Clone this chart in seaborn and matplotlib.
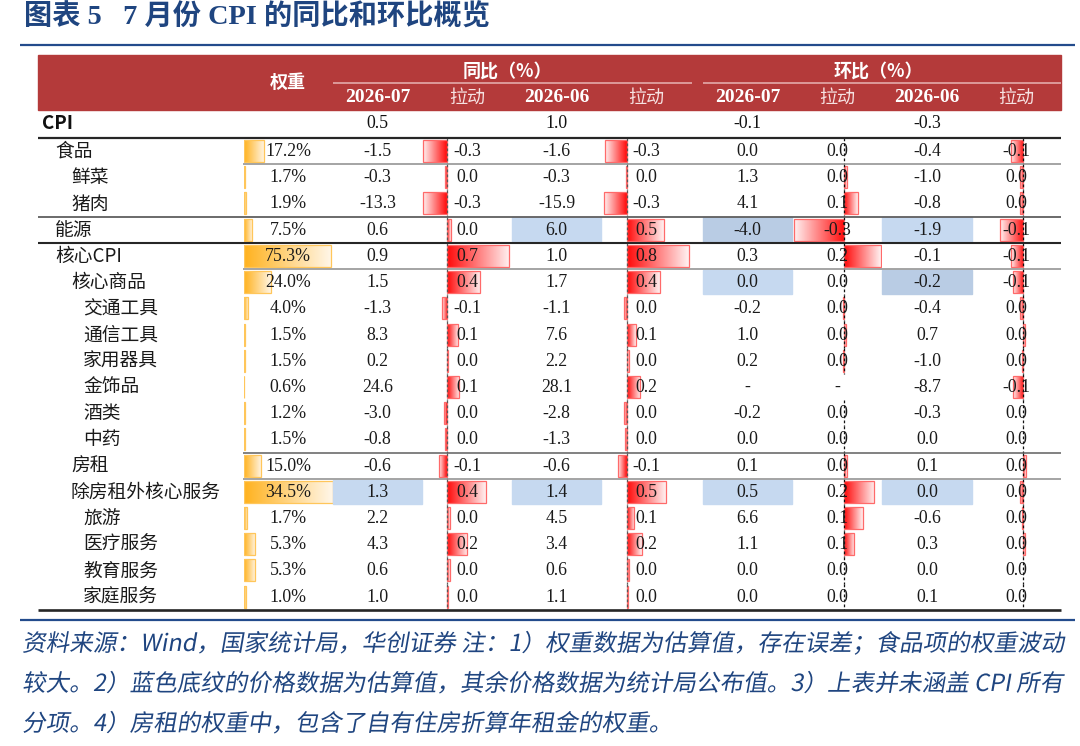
import numpy as np
import matplotlib
matplotlib.use('Agg')
import matplotlib.pyplot as plt
import seaborn as sns
from matplotlib.patches import Rectangle, PathPatch
from matplotlib.colors import LinearSegmentedColormap
from matplotlib.textpath import TextPath
from matplotlib.font_manager import FontProperties
from matplotlib.transforms import Affine2D

nan = np.nan

# ---- table data ----
rows = ['食品', '鲜菜', '猪肉', '能源', '核心CPI', '核心商品', '交通工具', '通信工具', '家用器具',
        '金饰品', '酒类', '中药', '房租', '除房租外核心服务', '旅游', '医疗服务', '教育服务', '家庭服务']
levels = [1, 2, 2, 1, 1, 2, 3, 3, 3, 3, 3, 3, 2, 2, 3, 3, 3, 3]
weights = [17.2, 1.7, 1.9, 7.5, 75.3, 24.0, 4.0, 1.5, 1.5, 0.6, 1.2, 1.5, 15.0, 34.5, 1.7, 5.3, 5.3, 1.0]
# the weight data bars were set up per block in the sheet, each block has its own full-width value
weight_block = [0, 0, 0, 0, 0, 0, 0, 0, 0, 0, 0, 0, 0, 1, 2, 2, 2, 2]
block_full = [76.5, 34.5, 39.5]

yoy_jul = [-1.5, -0.3, -13.3, 0.6, 0.9, 1.5, -1.3, 8.3, 0.2, 24.6, -3.0, -0.8, -0.6, 1.3, 2.2, 4.3, 0.6, 1.0]
yoy_jun = [-1.6, -0.3, -15.9, 6.0, 1.0, 1.7, -1.1, 7.6, 2.2, 28.1, -2.8, -1.3, -0.6, 1.4, 4.5, 3.4, 0.6, 1.1]
mom_jul = [0.0, 1.3, 4.1, -4.0, 0.3, 0.0, -0.2, 1.0, 0.2, nan, -0.2, 0.0, 0.1, 0.5, 6.6, 1.1, 0.0, 0.0]
mom_jun = [-0.4, -1.0, -0.8, -1.9, -0.1, -0.2, -0.4, 0.7, -1.0, -8.7, -0.3, 0.0, 0.1, 0.0, -0.6, 0.3, 0.0, 0.1]

# contributions (pp); shown rounded to 1 decimal
yoy_jul_pull = [-0.27, -0.02, -0.27, 0.04, 0.71, 0.38, -0.06, 0.13, 0.01, 0.14, -0.03, -0.02, -0.09, 0.44,
                0.03, 0.23, 0.03, 0.01]
yoy_jun_pull = [-0.28, -0.01, -0.29, 0.47, 0.79, 0.42, -0.04, 0.11, 0.02, 0.17, -0.04, -0.03, -0.11, 0.50,
                0.09, 0.19, 0.03, 0.01]
mom_jul_pull = [0.0, 0.015, 0.08, -0.30, 0.22, 0.0, -0.01, 0.01, -0.005, nan, 0.0, 0.0, 0.015, 0.18,
                0.11, 0.06, 0.0, 0.0]
mom_jun_pull = [-0.07, -0.02, -0.02, -0.13, -0.07, -0.06, -0.02, 0.01, -0.01, -0.06, 0.0, 0.0, 0.015, -0.02,
                -0.01, 0.01, 0.0, 0.0]

cpi_headline = [0.5, 1.0, -0.1, -0.3]   # yoy Jul, yoy Jun, mom Jul, mom Jun
months = ['2026-07', '2026-06']

# cells with estimated prices (blue background): (row, value column)
estimated_cells = [('能源', 1), ('能源', 2), ('能源', 3), ('核心商品', 2), ('核心商品', 3),
                   ('除房租外核心服务', 0), ('除房租外核心服务', 1), ('除房租外核心服务', 2), ('除房租外核心服务', 3)]
darker_cells = [('能源', 2), ('核心商品', 3)]

notes = ['资料来源：Wind，国家统计局，华创证券 注：1）权重数据为估算值，存在误差；食品项的权重波动',
         '较大。2）蓝色底纹的价格数据为估算值，其余价格数据为统计局公布值。3）上表并未涵盖 CPI 所有',
         '分项。4）房租的权重中，包含了自有住房折算年租金的权重。']

# ---- layout (pixels) ----
W, H = 1080, 746
Y_TOP, Y_BOT = 137.9, 609.8
N = len(rows)
PITCH = (Y_BOT - Y_TOP) / N
X_LEFT, X_RIGHT = 38, 1061
INDENT_X = {1: 55, 2: 71, 3: 83}
WEIGHT_CELL = (243.5, 332.5)
VAL_CELLS = [(333, 422), (512, 601), (703, 792), (882, 972)]
# (left, zero line, right, px per unit)
PULL_CELLS = [(422, 447, 512, 88), (601, 627, 692, 78), (792, 844.3, 882, 167), (972, 1023.3, 1061, 180)]
PULL_AXIS_COLOR = ['#5a5a5a', '#5a5a5a', '#111111', '#111111']
RED = '#B43A3A'
NAVY = '#1F4580'
SERIF = ['Liberation Serif', 'Noto Sans CJK SC']
SANS = ['Noto Sans CJK SC', 'DejaVu Sans']

sns.set_theme(style='white')
plt.rcParams['font.family'] = ['Liberation Serif', 'Noto Sans CJK SC', 'DejaVu Sans']

fig = plt.figure(figsize=(W / 100, H / 100), dpi=100)
fig.patch.set_facecolor('white')
ax = fig.add_axes([0, 0, 1, 1], zorder=3)
ax.set_xlim(0, W)
ax.set_ylim(H, 0)
ax.axis('off')


def row_y(i):
    return Y_TOP + (i + 0.5) * PITCH


def fmt(v):
    if np.isnan(v):
        return '-'
    s = f'{v:.1f}'
    return '0.0' if s == '-0.0' else s


def gradient_bars(x0, x1, vals, xlim, strong, pale, edge):
    bax = fig.add_axes([x0 / W, 1 - Y_BOT / H, (x1 - x0) / W, (Y_BOT - Y_TOP) / H], zorder=1)
    v = np.nan_to_num(np.asarray(vals, dtype=float))
    sns.barplot(x=v, y=rows, orient='h', color=strong, width=0.84, errorbar=None, ax=bax)
    cmap = LinearSegmentedColormap.from_list('fade', [strong, pale])
    grad = np.linspace(0, 1, 256)[None, :]
    for p in list(bax.patches):
        w = p.get_width()
        if w == 0 or np.isnan(w):
            p.set_visible(False)
            continue
        bx, by, bh = p.get_x(), p.get_y(), p.get_height()
        p.set_facecolor('none')
        p.set_edgecolor(edge)
        p.set_linewidth(0.9)
        p.set_zorder(3)
        im = bax.imshow(grad, cmap=cmap, extent=[bx, bx + w, by + bh, by], aspect='auto',
                        interpolation='bilinear', zorder=2)
        im.set_clip_path(p)
    bax.set_xlim(*xlim)
    bax.set_ylim(N - 0.5, -0.5)
    bax.axis('off')
    return bax


# weight bars
wnorm = [w / block_full[b] for w, b in zip(weights, weight_block)]
gradient_bars(WEIGHT_CELL[0], WEIGHT_CELL[1], wnorm, (0, 1), '#FFB21E', '#FFF7EA', '#FFC65A')

# contribution bars
pulls = [yoy_jul_pull, yoy_jun_pull, mom_jul_pull, mom_jun_pull]
for (left, zero, right, scale), pull, acol in zip(PULL_CELLS, pulls, PULL_AXIS_COLOR):
    bax = gradient_bars(left, right, pull, ((left - zero) / scale, (right - zero) / scale),
                        '#FF0A0A', '#FFF2F2', '#FF6A6A')
    for i, v in enumerate(pull):
        if np.isnan(v):
            continue
        bax.vlines(0, i - 0.5, i + 0.5, colors=acol, linestyles=(0, (2.2, 1.8)), lw=0.9, zorder=4)

# ---- title ----
ax.text(24, 17, '图表 5   7 月份 CPI 的同比和环比概览', fontsize=20.3, fontweight='bold',
        family=SERIF, color=NAVY, va='center', ha='left')
ax.hlines(45, 20, 1075, color='#234B8C', lw=1.6)
ax.hlines(619.5, 20, 1075, color='#234B8C', lw=1.6)

# ---- header ----
ax.add_patch(Rectangle((X_LEFT, 55), X_RIGHT - X_LEFT, 54.5, color=RED, zorder=1))
ax.hlines(83.3, VAL_CELLS[0][0], PULL_CELLS[1][2], color='#E8B4B4', lw=1.1, zorder=2)
ax.hlines(83.3, VAL_CELLS[2][0], X_RIGHT, color='#E8B4B4', lw=1.1, zorder=2)
ax.text(288, 82, '权重', fontsize=13, fontweight='bold', family=SANS, color='white', ha='center', va='center')
ax.text(507, 71, '同比（%）', fontsize=13, fontweight='bold', family=SANS, color='white', ha='center', va='center')
ax.text(878, 71, '环比（%）', fontsize=13, fontweight='bold', family=SANS, color='white', ha='center', va='center')
for k, (vc, pc) in enumerate(zip(VAL_CELLS, PULL_CELLS)):
    ax.text((vc[0] + vc[1]) / 2, 98, months[k % 2], fontsize=14, fontweight='bold', family=SERIF,
            color='white', ha='center', va='center')
    ax.text((pc[0] + pc[2]) / 2, 98, '拉动', fontsize=13, family=SANS, color='#F6E3E3',
            ha='center', va='center')

# ---- CPI headline row ----
ax.text(42, 123.5, 'CPI', fontsize=13.5, fontweight='bold', family=SANS, color='#111111', va='center')
for vc, v in zip(VAL_CELLS, cpi_headline):
    ax.text((vc[0] + vc[1]) / 2, 123.5, fmt(v), fontsize=12.8, family=SERIF, color='#111111',
            ha='center', va='center')

# ---- estimated (blue) cells ----
for name, c in estimated_cells:
    i = rows.index(name)
    x0, x1 = VAL_CELLS[c]
    col = '#B9CCE4' if (name, c) in darker_cells else '#C6D9F0'
    ax.add_patch(Rectangle((x0, Y_TOP + i * PITCH + 0.9), x1 - x0, PITCH - 1.8, color=col, zorder=1))

# ---- body text ----
values = [yoy_jul, yoy_jun, mom_jul, mom_jun]
for i, name in enumerate(rows):
    y = row_y(i) + 0.5
    ax.text(INDENT_X[levels[i]], y, name, fontsize=13.5, family=SANS, color='#1a1a1a', va='center')
    ax.text(sum(WEIGHT_CELL) / 2, y, f'{weights[i]:.1f}%', fontsize=12.8, family=SERIF,
            color='#1a1a1a', ha='center', va='center', zorder=5)
    for vc, pc, val, pull in zip(VAL_CELLS, PULL_CELLS, values, pulls):
        ax.text((vc[0] + vc[1]) / 2, y, fmt(val[i]), fontsize=12.8, family=SERIF, color='#1a1a1a',
                ha='center', va='center', zorder=5)
        ax.text((pc[0] + pc[2]) / 2, y, fmt(pull[i]), fontsize=12.8, family=SERIF, color='#1a1a1a',
                ha='center', va='center', zorder=5)

# ---- row rules: (after row, start x, colour, width) ----
rules = [(-1, X_LEFT, '#262626', 1.6), (0, 243, '#8C8C8C', 1.1), (2, X_LEFT, '#5f5f5f', 1.3),
         (3, X_LEFT, '#262626', 1.5), (4, 243, '#8C8C8C', 1.1), (11, 243, '#5f5f5f', 1.1),
         (12, 243, '#8C8C8C', 1.1), (N - 1, X_LEFT, '#262626', 1.9)]
for after, xs, col, lw in rules:
    ax.hlines(Y_TOP + (after + 1) * PITCH, xs, X_RIGHT, color=col, lw=lw, zorder=4)

# ---- notes (slanted to mimic the italic source line) ----
note_prop = FontProperties(family='Noto Sans CJK SC')
for k, line in enumerate(notes):
    tp = TextPath((0, 0), line, size=23.6, prop=note_prop)
    tr = Affine2D().skew_deg(10, 0).scale(1, -1).translate(22, 651 + k * 40) + ax.transData
    ax.add_patch(PathPatch(tp, facecolor=NAVY, edgecolor='none', transform=tr))

fig.savefig('out.png', dpi=100)
